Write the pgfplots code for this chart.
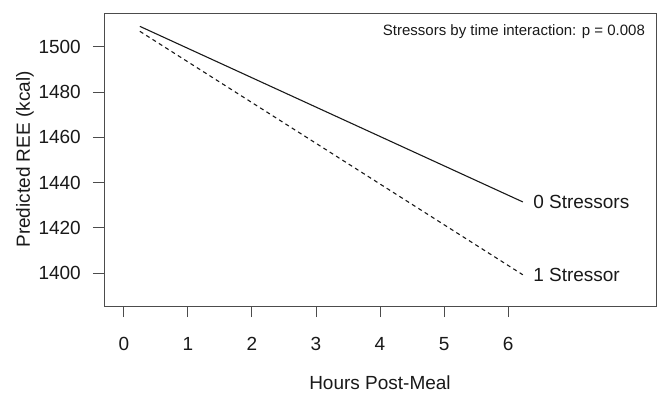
\documentclass[border=0pt]{standalone}
\usepackage{fontspec}
\setmainfont{Liberation Sans}
\usepackage{pgfplots}
\pgfplotsset{compat=1.18}
\begin{document}
\fontsize{19bp}{23bp}\selectfont
\begin{tikzpicture}
\path[use as bounding box] (-104bp,-88bp) rectangle (559bp,306bp);
\begin{axis}[
  at={(0,0)}, anchor=south west,
  scale only axis, width=552bp, height=293bp,
  xmin=-0.31, xmax=8.31, ymin=1385.5, ymax=1515,
  xtick={0,1,2,3,4,5,6}, ytick={1400,1420,1440,1460,1480,1500},
  xtick pos=bottom, ytick pos=left,
  tick align=outside, major tick length=11bp,
  axis line style={black!70, line width=0.9bp},
  tick style={black!70, line width=0.9bp},
  /pgf/number format/assume math mode=true,
  /pgf/number format/1000 sep={},
  ticklabel style={font=\fontsize{19bp}{23bp}\selectfont, text=black!90},
  xticklabel style={inner sep=0pt, anchor=north, yshift=-20bp},
  yticklabel style={inner sep=0pt, anchor=east, xshift=-12bp},
  xlabel={Hours Post-Meal}, ylabel={Predicted REE (kcal)},
  label style={font=\fontsize{19bp}{23bp}\selectfont, text=black!90},
  xlabel style={at={(axis description cs:0.5,0)}, anchor=north, inner sep=0pt, yshift=-70bp},
  ylabel style={at={(axis description cs:0,0.5)}, anchor=center, inner sep=0pt, yshift=79bp},
  clip=false,
]
\addplot[black!90, line width=1.1bp] coordinates {(0.25,1509.1) (6.23,1431.5)};
\addplot[black!90, line width=1.1bp, dash pattern=on 4bp off 3.5bp] coordinates {(0.25,1506.9) (6.23,1399.3)};
\node[anchor=west, inner sep=0pt, text=black!90] at (axis cs:6.39,1431.5) {0 Stressors};
\node[anchor=west, inner sep=0pt, text=black!90] at (axis cs:6.39,1399.3) {1 Stressor};
\node[anchor=east, inner sep=0pt, text=black!90, font=\fontsize{15bp}{18bp}\selectfont] at (axis cs:8.14,1506.8) {Stressors by time interaction: p = 0.008};
\end{axis}
\end{tikzpicture}
\end{document}
